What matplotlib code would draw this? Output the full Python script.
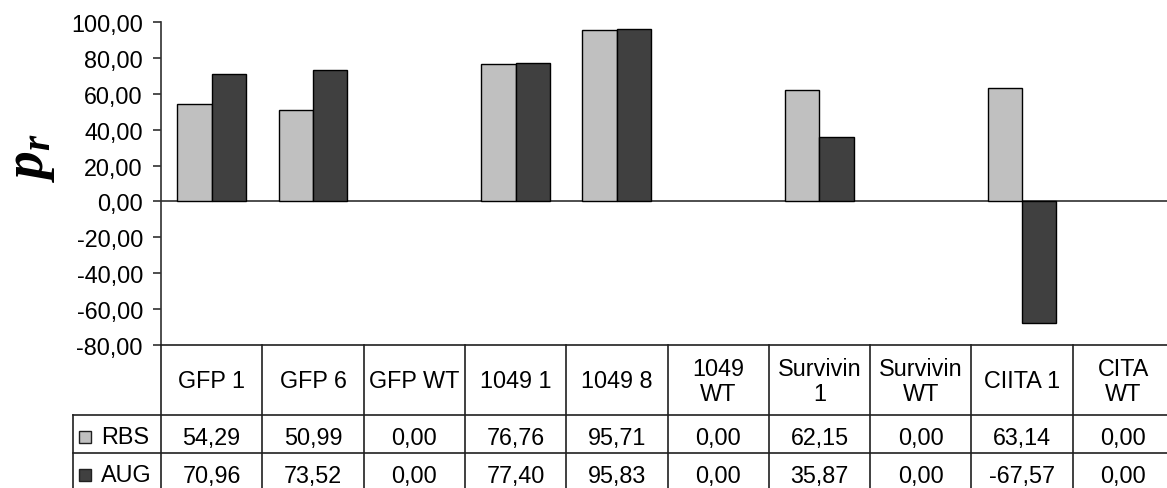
import numpy as np
import matplotlib
matplotlib.use("Agg")
import matplotlib.pyplot as plt
from matplotlib.patches import Rectangle

plt.rcParams['font.family'] = ['Liberation Sans', 'DejaVu Sans']
plt.rcParams['mathtext.fontset'] = 'custom'
plt.rcParams['mathtext.it'] = 'Liberation Serif:italic:bold'
plt.rcParams['mathtext.rm'] = 'Liberation Serif:bold'

# data
categories = ['GFP 1', 'GFP 6', 'GFP WT', '1049 1', '1049 8', '1049\nWT',
              'Survivin\n1', 'Survivin\nWT', 'CIITA 1', 'CITA\nWT']
series_names = ['RBS', 'AUG']
rbs = [54.29, 50.99, 0.00, 76.76, 95.71, 0.00, 62.15, 0.00, 63.14, 0.00]
aug = [70.96, 73.52, 0.00, 77.40, 95.83, 0.00, 35.87, 0.00, -67.57, 0.00]
colors = ['#c0c0c0', '#404040']
yticks = np.arange(-80, 101, 20)

def fmt(v):
    return ('%.2f' % v).replace('.', ',')

W, H = 1167, 489
fs = 16.8
fig = plt.figure(figsize=(W / 100, H / 100), dpi=100)

# pixel layout
x0 = 161
cw = 101.3
x1 = x0 + cw * len(categories)
y_top, y_bot = 23, 346
rows = [346, 416, 454, 492]
lab_x = 73

ax = fig.add_axes([x0 / W, 1 - y_bot / H, (x1 - x0) / W, (y_bot - y_top) / H])
n = len(categories)
x = np.arange(n)
bw = 0.34
for i, (name, vals) in enumerate(zip(series_names, [rbs, aug])):
    lws = [1.0 if v != 0 else 0 for v in vals]
    ax.bar(x + (i - 0.5) * bw, vals, bw, color=colors[i], edgecolor='black', linewidth=lws)
ax.set_xlim(-0.5, n - 0.5)
ax.set_ylim(-80, 100)
ax.set_yticks(yticks)
ax.set_yticklabels([fmt(v) for v in yticks], fontsize=fs)
ax.tick_params(axis='y', direction='out', length=6, width=1.2, color='#303030', pad=7)
ax.set_xticks([])
for s in ['top', 'right', 'bottom']:
    ax.spines[s].set_visible(False)
ax.spines['left'].set_color('#303030')
ax.spines['left'].set_linewidth(1.2)
ax.axhline(0, color='#303030', lw=1.2, zorder=0.5)

fig.text(31 / W, 1 - 157 / H, r'$p_r$', rotation=90, fontsize=40, ha='center', va='center')

# data table
tax = fig.add_axes([0, 0, 1, 1])
tax.set_xlim(0, W)
tax.set_ylim(H, 0)
tax.axis('off')
lc = '#202020'
lw = 1.2
tax.plot([x0, x1], [rows[0], rows[0]], color=lc, lw=lw)
for r in rows[1:3]:
    tax.plot([lab_x, x1], [r, r], color=lc, lw=lw)
tax.plot([lab_x, lab_x], [rows[1], rows[3]], color=lc, lw=lw)
for k in range(n + 1):
    xx = x0 + k * cw
    tax.plot([xx, xx], [rows[0], rows[3]], color=lc, lw=lw)

for k, cat in enumerate(categories):
    cx = x0 + (k + 0.5) * cw
    tax.text(cx, (rows[0] + rows[1]) / 2 + 1, cat, ha='center', va='center',
             fontsize=fs, linespacing=1.1)
    for j, vals in enumerate([rbs, aug]):
        tax.text(cx, (rows[j + 1] + rows[j + 2]) / 2 + 3, fmt(vals[k]),
                 ha='center', va='center', fontsize=fs)

for j, name in enumerate(series_names):
    cy = (rows[j + 1] + rows[j + 2]) / 2 + 3
    tax.add_patch(Rectangle((79, cy - 6), 12, 12, facecolor=colors[j], edgecolor=lc, lw=1))
    tax.text(101, cy, name, ha='left', va='center', fontsize=fs)

fig.savefig('out.png', dpi=100)
